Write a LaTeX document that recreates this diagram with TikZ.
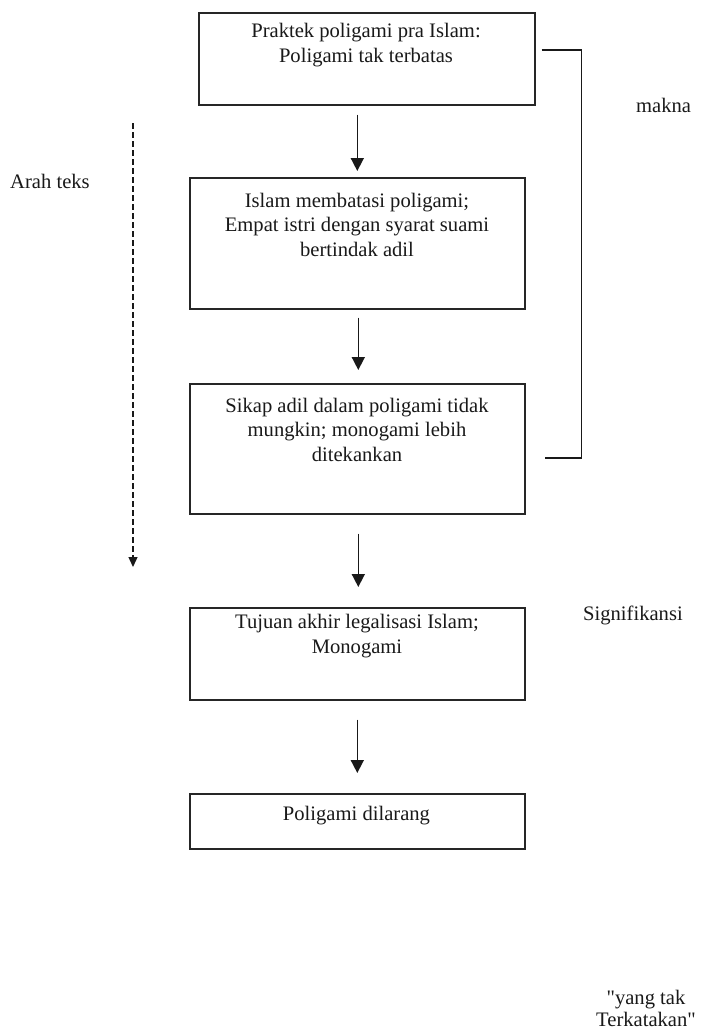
\documentclass[tikz,border=0pt]{standalone}
\usepackage{fontspec}
\setmainfont{Liberation Serif}[Ligatures=TeXOff]
\usetikzlibrary{arrows.meta,calc}
\begin{document}
\begin{tikzpicture}[x=1pt,y=-1pt,
  box/.style={draw=black!85, line width=1.6pt, rectangle, inner sep=0pt, anchor=north west},
  txt/.style={inner sep=0pt, align=center, font=\fontsize{20.6}{24.5}\selectfont, text=black!90},
  lbl/.style={inner sep=0pt, font=\fontsize{20.6}{24.5}\selectfont, text=black!90},
  arr/.style={draw=black!90, line width=1.6pt, -{Triangle[width=13pt,length=13pt]}},
  brk/.style={draw=black!90, line width=1.5pt},
  dasharr/.style={draw=black!90, line width=1.3pt, dash pattern=on 6pt off 3pt, -{Triangle[width=9pt,length=10pt]}}
]
\useasboundingbox (0,0) rectangle (716,1034);
\fill[white] (0,0) rectangle (716,1034);

% boxes
\node[box, minimum width=336pt, minimum height=92pt] (b1) at (198,12) {};
\node[box, minimum width=335pt, minimum height=131pt] (b2) at (189,177) {};
\node[box, minimum width=335pt, minimum height=130pt] (b3) at (189,383) {};
\node[box, minimum width=335pt, minimum height=92pt] (b4) at (189,607) {};
\node[box, minimum width=335pt, minimum height=55pt] (b5) at (189,793) {};

% box texts
\node[txt, anchor=north] (t1) at (366,23.5) {Praktek poligami pra Islam:\\Poligami tak terbatas};
\node[txt, anchor=north] (t2) at (357,192.7) {Islam membatasi poligami;\\Empat istri dengan syarat suami\\bertindak adil};
\node[txt, anchor=north] (t3) at (357,397.7) {Sikap adil dalam poligami tidak\\mungkin; monogami lebih\\ditekankan};
\node[txt, anchor=north] (t4) at (357,614) {Tujuan akhir legalisasi Islam;\\Monogami};
\node[lbl, anchor=base] (t5) at (356.5,820) {Poligami dilarang};

% side labels
\node[lbl, anchor=base west] (arah) at (10,188) {Arah teks};
\node[lbl, anchor=base west] (makna) at (636,112) {makna};
\node[lbl, anchor=base west] (sig) at (583,620) {Signifikansi};
\node[txt, anchor=north, font=\fontsize{20.6}{22}\selectfont] (yang) at (646,990) {"yang tak\\Terkatakan"};

% arrows between boxes
\draw[arr] ([yshift=-9pt]b1.south -| b2.north) -- ([yshift=6pt]b2.north);
\draw[arr] ([yshift=-8pt,xshift=1pt]b2.south) -- ([yshift=13pt,xshift=1pt]b3.north);
\draw[arr] ([yshift=-19pt,xshift=1pt]b3.south) -- ([yshift=20pt,xshift=1pt]b4.north);
\draw[arr] ([yshift=-19pt]b4.south) -- ([yshift=20pt]b5.north);

% bracket
\draw[brk] ([xshift=6pt,yshift=9pt]b1.east) -- ++(40,0) |- ([xshift=19pt,yshift=-9pt]b3.east);

% dashed direction arrow
\coordinate (ds) at (133,123);
\coordinate (de) at (133,567);
\draw[dasharr] (ds) -- (de);
\end{tikzpicture}
\end{document}
